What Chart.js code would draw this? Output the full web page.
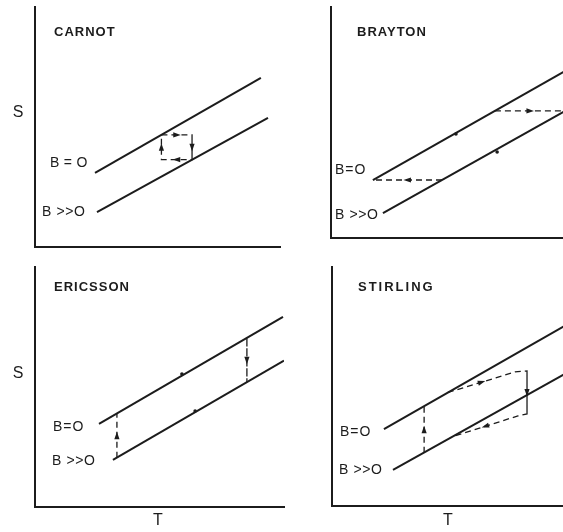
<!DOCTYPE html>
<html>
<head>
<meta charset="utf-8">
<script src="https://cdn.jsdelivr.net/npm/chart.js@4.4.0/dist/chart.umd.min.js"></script>
<style>
html, body { margin: 0; padding: 0; background: #fff; overflow: hidden; }
#wrap { position: relative; width: 563px; height: 532px; overflow: hidden; background: #fff; }
canvas { position: absolute; }
</style>
</head>
<body>
<div id="wrap">
    <canvas id="carnot" width="288" height="262" style="left:0;top:0"></canvas>
    <canvas id="ericsson" width="288" height="270" style="left:0;top:262px"></canvas>
    <canvas id="brayton" width="300" height="262" style="left:282px;top:0"></canvas>
    <canvas id="stirling" width="300" height="270" style="left:282px;top:262px"></canvas>
</div>
<script>
// T and S on an arbitrary 0..100 scale.
// Legs of a cycle: 'A' dashed with arrow, 'D' dashed, 'S' runs along a solid line.

// Carnot
const carnotZero = [[24.5, 30.7], [92.2, 70.4]];
const carnotHigh = [[25.3, 14.4], [95.1, 53.7]];
const carnotCycle = [[51.6, 46.6], [64.1, 46.6], [64.1, 36.3], [51.6, 36.3], [51.6, 46.6]];
const carnotLegs = ['A', 'A', 'A', 'A'];

// Brayton
const braytonZero = [[17.1, 25.1], [98, 73.8]];
const braytonHigh = [[21.2, 10.8], [98, 56.4]];
const braytonCycle = [[17.1, 25.1], [66.9, 55.0], [95.5, 55.0], [45.3, 25.1], [17.1, 25.1]];
const braytonLegs = ['S', 'A', 'S', 'A'];
const braytonMarks = [[51.0, 45.0], [67.8, 37.2]];

// Ericsson
const ericssonZero = [[25.7, 34.6], [99.6, 79.2]];
const ericssonHigh = [[31.3, 19.6], [100, 61.0]];
const ericssonCycle = [[32.9, 20.5], [32.9, 38.9], [85.1, 70.3], [85.1, 52.0], [32.9, 20.5]];
const ericssonLegs = ['A', 'S', 'A', 'S'];
const ericssonMarks = [[59.0, 55.4], [64.3, 40.0]];

// Stirling
const stirlingZero = [[21.2, 32.2], [98, 77.1]];
const stirlingHigh = [[24.9, 15.1], [98, 57.0]];
const stirlingCycle = [[37.6, 22.3], [37.6, 41.6], [47.3, 47.5], [74.7, 56.1], [79.6, 56.5],
                       [79.6, 38.5], [75.9, 37.7], [49.4, 29.1], [37.6, 22.3]];
const stirlingLegs = ['A', 'S', 'A', 'D', 'A', 'D', 'A', 'S'];

const INK = '#1c1c1c';
const FONT = '"Liberation Sans", Arial, Helvetica, sans-serif';

const pts = arr => arr.map(p => ({ x: p[0], y: p[1] }));

const textPlugin = {
    id: 'panelText',
    afterDraw(chart, args, opts) {
        const ctx = chart.ctx;
        (opts.items || []).forEach(t => {
            ctx.save();
            ctx.font = t.font;
            ctx.letterSpacing = (t.spacing || 0) + 'px';
            ctx.fillStyle = INK;
            ctx.textAlign = t.align || 'left';
            ctx.textBaseline = 'middle';
            ctx.fillText(t.text, t.x, t.y);
            ctx.restore();
        });
    }
};

const arrowPlugin = {
    id: 'cycleArrows',
    afterDatasetsDraw(chart) {
        const ctx = chart.ctx;
        chart.data.datasets.forEach((ds, i) => {
            if (!ds.legs) return;
            const el = chart.getDatasetMeta(i).data;
            ds.legs.forEach((kind, j) => {
                if (kind !== 'A') return;
                const a = el[j], b = el[j + 1];
                const ang = Math.atan2(b.y - a.y, b.x - a.x);
                ctx.save();
                ctx.translate((a.x + b.x) / 2, (a.y + b.y) / 2);
                ctx.rotate(ang);
                ctx.beginPath();
                ctx.moveTo(4, 0);
                ctx.lineTo(-3.5, -2.6);
                ctx.lineTo(-3.5, 2.6);
                ctx.closePath();
                ctx.fillStyle = INK;
                ctx.fill();
                ctx.restore();
            });
        });
    }
};

function lineSet(data) {
    return { data: pts(data), showLine: true, borderColor: INK, borderWidth: 2, pointRadius: 0 };
}

function cycleSet(data, legs) {
    return {
        data: pts(data), legs: legs, showLine: true, borderColor: INK, borderWidth: 1.3, pointRadius: 0,
        segment: {
            borderDash: ctx => legs[ctx.p0DataIndex] === 'S' ? [] : [6, 4],
            borderColor: ctx => legs[ctx.p0DataIndex] === 'S' ? 'rgba(0,0,0,0)' : INK,
        },
    };
}

function markSet(data) {
    return { data: pts(data), showLine: false, pointRadius: 1.8, backgroundColor: INK, borderWidth: 0 };
}

function axis() {
    return {
        type: 'linear', min: 0, max: 100,
        ticks: { display: false },
        grid: { display: false, drawTicks: false },
        border: { display: true, color: INK, width: 2 },
    };
}

function panel(id, datasets, padding, items) {
    new Chart(document.getElementById(id), {
        type: 'scatter',
        data: { datasets: datasets },
        options: {
            responsive: false,
            animation: false,
            devicePixelRatio: 1,
            layout: { padding: padding },
            scales: { x: axis(), y: axis() },
            plugins: { legend: { display: false }, tooltip: { enabled: false }, panelText: { items: items } },
        },
        plugins: [textPlugin, arrowPlugin],
    });
}

const titleFont = 'bold 13px ' + FONT;
const labelFont = '14px ' + FONT;
const axisFont = '16px ' + FONT;

panel('carnot',
    [lineSet(carnotZero), lineSet(carnotHigh), cycleSet(carnotCycle, carnotLegs)],
    { left: 35, right: 8, top: 7, bottom: 15.5 },
    [
        { text: 'CARNOT', x: 54, y: 32, font: titleFont, spacing: 1 },
        { text: 'S', x: 18, y: 113, font: axisFont, align: 'center' },
        { text: 'B = O', x: 50, y: 163, font: labelFont, spacing: 0.3 },
        { text: 'B >>O', x: 42, y: 212, font: labelFont, spacing: 0.6 },
    ]);

panel('brayton',
    [lineSet(braytonZero), lineSet(braytonHigh), cycleSet(braytonCycle, braytonLegs), markSet(braytonMarks)],
    { left: 49, right: 6, top: 7, bottom: 24 },
    [
        { text: 'BRAYTON', x: 75, y: 32, font: titleFont, spacing: 1 },
        { text: 'B=O', x: 53, y: 170, font: labelFont, spacing: 1 },
        { text: 'B >>O', x: 53, y: 215, font: labelFont, spacing: 0.6 },
    ]);

panel('ericsson',
    [lineSet(ericssonZero), lineSet(ericssonHigh), cycleSet(ericssonCycle, ericssonLegs), markSet(ericssonMarks)],
    { left: 35, right: 4, top: 5, bottom: 25 },
    [
        { text: 'ERICSSON', x: 54, y: 25, font: titleFont, spacing: 1 },
        { text: 'S', x: 18, y: 112, font: axisFont, align: 'center' },
        { text: 'T', x: 158, y: 259, font: axisFont, align: 'center' },
        { text: 'B=O', x: 53, y: 165, font: labelFont, spacing: 1 },
        { text: 'B >>O', x: 52, y: 199, font: labelFont, spacing: 0.6 },
    ]);

panel('stirling',
    [lineSet(stirlingZero), lineSet(stirlingHigh), cycleSet(stirlingCycle, stirlingLegs)],
    { left: 50, right: 5, top: 5, bottom: 26 },
    [
        { text: 'STIRLING', x: 76, y: 25, font: titleFont, spacing: 2 },
        { text: 'T', x: 166, y: 259, font: axisFont, align: 'center' },
        { text: 'B=O', x: 58, y: 170, font: labelFont, spacing: 1 },
        { text: 'B >>O', x: 57, y: 208, font: labelFont, spacing: 0.6 },
    ]);
</script>
</body>
</html>
